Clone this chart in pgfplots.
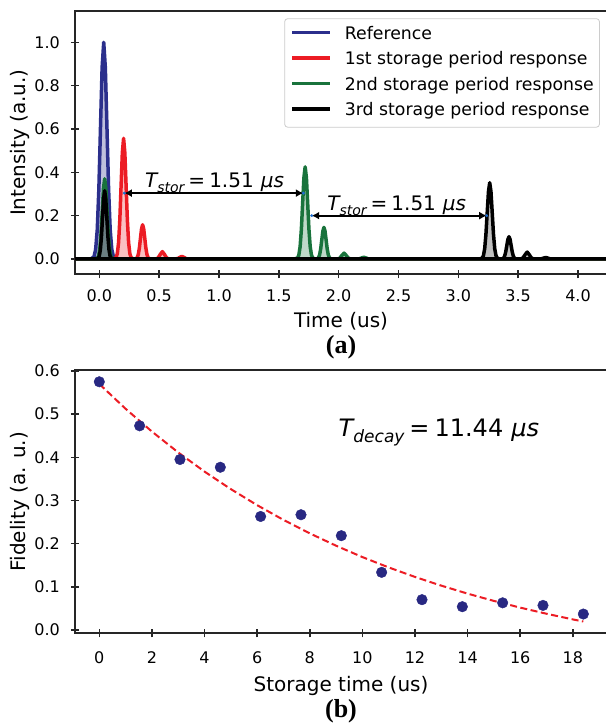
\documentclass[border=0pt]{standalone}
\usepackage{fontspec}
\setmainfont{DejaVu Sans}
\newfontfamily\capfont{Liberation Serif}
\usepackage{pgfplots}
\pgfplotsset{compat=1.18}
\usetikzlibrary{arrows.meta}

\definecolor{refblue}{RGB}{43,47,140}
\definecolor{resred}{RGB}{236,28,36}
\definecolor{resgreen}{RGB}{25,115,60}
\definecolor{ptblue}{RGB}{40,40,130}
\definecolor{tipblue}{RGB}{30,110,210}

\pgfplotsset{
  myaxis/.style={
    scale only axis,
    axis line style={line width=2bp, black!85},
    tick pos=left, tick align=center,
    major tick length=8bp,
    every tick/.style={line width=1.5bp, black!85},
    /pgf/number format/assume math mode=true,
    tick label style={font=\fontsize{16bp}{19bp}\selectfont},
    xticklabel style={anchor=base, inner sep=0pt},
    yticklabel style={anchor=east, inner sep=0pt, xshift=-11bp},
    every axis y label/.style={at={(rel axis cs:0,0.5)}, anchor=base, xshift=-49bp, rotate=90,
      font=\fontsize{20bp}{24bp}\selectfont},
  },
  pulse/.style={line width=3.5bp, line join=round, fill opacity=#1},
}

\newcommand\arr{{Latex[length=7.5bp,width=8bp]}-{Latex[length=7.5bp,width=8bp]}}

\begin{document}
\begin{tikzpicture}
\useasboundingbox (0,0) rectangle (606bp,723bp);

% (a) pulses
\begin{axis}[myaxis, name=top,
  at={(75bp,448.7bp)}, anchor=south west,
  width=532bp, height=263.3bp,
  xmin=-0.203, xmax=4.242, ymin=-0.0706, ymax=1.1445,
  xtick={0,0.5,1,1.5,2,2.5,3,3.5,4},
  ytick={0,0.2,0.4,0.6,0.8,1.0},
  xticklabel style={yshift=-23.5bp, /pgf/number format/.cd, fixed, fixed zerofill, precision=1},
  yticklabel style={/pgf/number format/.cd, fixed, fixed zerofill, precision=1},
  xlabel={Time (us)}, ylabel={Intensity (a.u.)},
  every axis x label/.style={at={(rel axis cs:0.5,0)}, anchor=base, yshift=-53.7bp,
    font=\fontsize{20bp}{24bp}\selectfont},
  legend style={at={(rel axis cs:0.3934,0.9723)}, anchor=north west,
    draw=black!20, line width=0.8bp, rounded corners=3bp,
    fill=white, fill opacity=0.8, text opacity=1,
    inner xsep=5.7bp, inner ysep=7.5bp, row sep=8.5bp, column sep=13.3bp,
    font=\fontsize{17.3bp}{20bp}\selectfont,
    nodes={inner sep=0bp, text height=13bp, text depth=4bp, anchor=base west}},
  legend cell align=left,
  legend image code/.code={\draw[#1, fill=none, line width=3.5bp] (0bp,6.5bp) -- (37.7bp,6.5bp);},
]
\addplot[pulse=0.3, draw=refblue, fill=refblue] coordinates {
 (-0.21,0) (-0.07,0)
 (-0.044,0.011) (-0.0305,0.044) (-0.017,0.135) (-0.0035,0.325) (0.010,0.607) (0.0235,0.883)
 (0.037,1.0) (0.0505,0.883) (0.064,0.607) (0.0775,0.325) (0.091,0.135) (0.1045,0.044) (0.118,0.011)
 (0.145,0) (4.25,0)} \closedcycle;
\addlegendentry{Reference}

\addplot[pulse=0.28, draw=resred, fill=resred] coordinates {
 (-0.21,0) (0.118,0)
 (0.140,0.0062) (0.1505,0.0244) (0.161,0.0751) (0.1715,0.1802) (0.182,0.3366) (0.1925,0.4898)
 (0.203,0.557) (0.2135,0.4898) (0.224,0.3366) (0.2345,0.1802) (0.245,0.0751) (0.2555,0.0244) (0.266,0.0062)
 (0.288,0)
 (0.308,0.0018) (0.317,0.0069) (0.326,0.0214) (0.335,0.0513) (0.344,0.0958) (0.353,0.1394)
 (0.362,0.158) (0.371,0.1394) (0.380,0.0958) (0.389,0.0513) (0.398,0.0214) (0.407,0.0069) (0.416,0.0018)
 (0.445,0)
 (0.473,0.0004) (0.491,0.0046) (0.509,0.0206) (0.527,0.034) (0.545,0.0206) (0.563,0.0046) (0.581,0.0004)
 (0.61,0)
 (0.654,0.0016) (0.672,0.0073) (0.69,0.012) (0.708,0.0073) (0.726,0.0016)
 (0.75,0) (4.25,0)} \closedcycle;
\addlegendentry{1st storage period response}

\addplot[pulse=0.28, draw=resgreen, fill=resgreen] coordinates {
 (-0.21,0) (-0.035,0)
 (-0.015,0.0041) (-0.005,0.0162) (0.005,0.0501) (0.015,0.1201) (0.025,0.2244) (0.035,0.3265)
 (0.045,0.37) (0.055,0.3265) (0.065,0.2244) (0.075,0.1201) (0.085,0.0501) (0.095,0.0162) (0.105,0.0041)
 (0.125,0) (1.63,0)
 (1.657,0.0047) (1.6675,0.0187) (1.678,0.0575) (1.6885,0.138) (1.699,0.2578) (1.7095,0.3751)
 (1.72,0.425) (1.7305,0.3751) (1.741,0.2578) (1.7515,0.138) (1.762,0.0575) (1.7725,0.0187) (1.783,0.0047)
 (1.803,0)
 (1.823,0.0016) (1.832,0.0064) (1.841,0.0198) (1.850,0.0474) (1.859,0.0885) (1.868,0.1288)
 (1.877,0.146) (1.886,0.1288) (1.895,0.0885) (1.904,0.0474) (1.913,0.0198) (1.922,0.0064) (1.931,0.0016)
 (1.96,0)
 (1.991,0.0003) (2.009,0.0037) (2.027,0.0164) (2.045,0.027) (2.063,0.0164) (2.081,0.0037) (2.099,0.0003)
 (2.13,0)
 (2.174,0.0011) (2.192,0.0049) (2.21,0.008) (2.228,0.0049) (2.246,0.0011)
 (2.27,0) (4.25,0)} \closedcycle;
\addlegendentry{2nd storage period response}

\addplot[pulse=0.25, draw=black, fill=black] coordinates {
 (-0.21,0) (-0.03,0)
 (-0.009,0.0035) (0.000,0.0138) (0.009,0.0426) (0.018,0.1023) (0.027,0.191) (0.036,0.278)
 (0.045,0.315) (0.054,0.278) (0.063,0.191) (0.072,0.1023) (0.081,0.0426) (0.090,0.0138) (0.099,0.0035)
 (0.12,0) (3.175,0)
 (3.199,0.0039) (3.2095,0.0155) (3.220,0.0476) (3.2305,0.1143) (3.241,0.2135) (3.2515,0.3106)
 (3.262,0.352) (3.2725,0.3106) (3.283,0.2135) (3.2935,0.1143) (3.304,0.0476) (3.3145,0.0155) (3.325,0.0039)
 (3.347,0)
 (3.369,0.0011) (3.378,0.0045) (3.387,0.0139) (3.396,0.0334) (3.405,0.0625) (3.414,0.0909)
 (3.423,0.103) (3.432,0.0909) (3.441,0.0625) (3.450,0.0334) (3.459,0.0139) (3.468,0.0045) (3.477,0.0011)
 (3.50,0)
 (3.521,0.0004) (3.539,0.0043) (3.557,0.0194) (3.575,0.032) (3.593,0.0194) (3.611,0.0043) (3.629,0.0004)
 (3.66,0)
 (3.694,0.001) (3.712,0.0042) (3.73,0.007) (3.748,0.0042) (3.766,0.001)
 (3.79,0) (4.25,0)} \closedcycle;
\addlegendentry{3rd storage period response}

\draw[\arr, line width=2bp] (axis cs:0.209,0.304) -- (axis cs:1.705,0.304);
\draw[\arr, line width=2bp] (axis cs:1.775,0.2) -- (axis cs:3.237,0.2);
\addplot[only marks, mark=*, mark size=1.3bp, color=tipblue, forget plot]
  coordinates {(0.209,0.304) (1.705,0.304) (1.775,0.2) (3.237,0.2)};

\node[anchor=base, inner sep=0pt, font=\fontsize{20bp}{24bp}\selectfont] at (axis cs:0.963,0.332)
  {\itshape T\raisebox{-5bp}{\fontsize{14bp}{14bp}\selectfont stor}\hspace{4bp}\upshape=\hspace{4bp}1.51\hspace{7bp}\itshape μs};
\node[anchor=base, inner sep=0pt, font=\fontsize{20bp}{24bp}\selectfont] at (axis cs:2.485,0.226)
  {\itshape T\raisebox{-5bp}{\fontsize{14bp}{14bp}\selectfont stor}\hspace{4bp}\upshape=\hspace{4bp}1.51\hspace{7bp}\itshape μs};
\end{axis}
\node[anchor=base, font=\fontsize{26bp}{30bp}\capfont\bfseries\selectfont, yshift=-79.4bp] at (top.south) {(a)};

% (b) fidelity
\begin{axis}[myaxis, name=bot,
  at={(75bp,89.7bp)}, anchor=south west,
  width=532bp, height=263.3bp,
  xmin=-0.924, xmax=19.30, ymin=-0.0076, ymax=0.6023,
  xtick={0,2,4,6,8,10,12,14,16,18},
  ytick={0,0.1,0.2,0.3,0.4,0.5,0.6},
  xticklabel style={yshift=-26.5bp},
  yticklabel style={/pgf/number format/.cd, fixed, fixed zerofill, precision=1},
  xlabel={Storage time (us)}, ylabel={Fidelity (a. u.)},
  every axis x label/.style={at={(rel axis cs:0.5,0)}, anchor=base, yshift=-57.7bp,
    font=\fontsize{20bp}{24bp}\selectfont},
]
\addplot[only marks, mark=*, mark size=5.3bp, color=ptblue] coordinates {
 (0,0.575) (1.533,0.473) (3.067,0.395) (4.6,0.377) (6.133,0.263) (7.667,0.267)
 (9.2,0.2185) (10.733,0.1336) (12.267,0.0703) (13.8,0.054) (15.333,0.063)
 (16.867,0.057) (18.4,0.037)};
\addplot[color=resred, line width=2bp, dash pattern=on 7bp off 3.5bp] coordinates {
 (0,0.570) (1,0.5124) (2,0.4597) (3,0.4113) (4,0.3670) (5,0.3264) (6,0.2892)
 (7,0.2551) (8,0.2239) (9,0.1953) (10,0.1690) (11,0.1450) (12,0.1230) (13,0.1028)
 (14,0.0843) (15,0.0674) (16,0.0519) (17,0.0377) (18,0.0246) (18.4,0.0197)};
\node[anchor=base, inner sep=0pt, font=\fontsize{24bp}{28bp}\selectfont] at (axis cs:12.91,0.449)
  {\itshape T\raisebox{-6bp}{\fontsize{17bp}{17bp}\selectfont decay}\hspace{5bp}\upshape=\hspace{5bp}11.44\hspace{8bp}\itshape μs};
\end{axis}
\node[anchor=base, font=\fontsize{26bp}{30bp}\capfont\bfseries\selectfont, yshift=-84.1bp] at (bot.south) {(b)};
\end{tikzpicture}
\end{document}
